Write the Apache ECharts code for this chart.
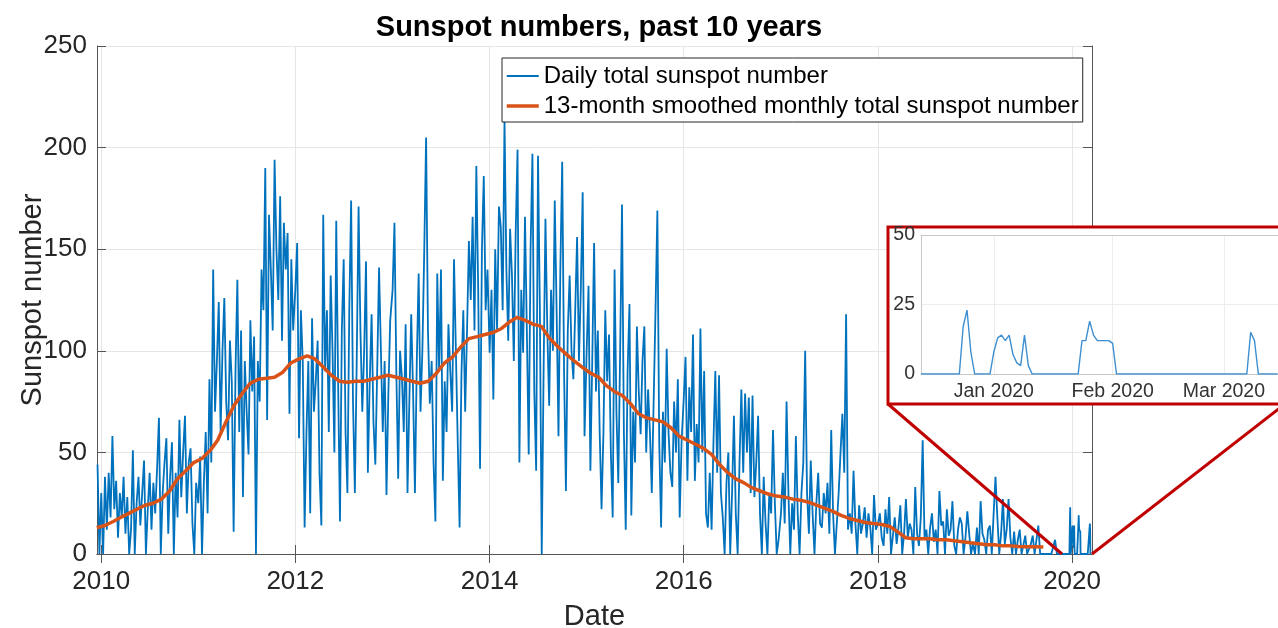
<!DOCTYPE html>
<html>
<head>
<meta charset="utf-8">
<title>Sunspot numbers, past 10 years</title>
<script src="https://cdn.jsdelivr.net/npm/echarts@6/dist/echarts.min.js"></script>
<style>
    html, body {
        margin: 0;
        padding: 0;
        background: #fff;
    }

    #chart {
        width: 1278px;
        height: 628px;
    }
</style>
</head>
<body>
<div id="chart"></div>
<script>
    const weekly2009 = [44, 0]; // from 18 Dec 2009
    const weekly2010 = [30, 0, 38, 12, 40, 18, 58, 22, 36, 8, 30, 18, 38, 10, 28, 0, 12, 51, 0, 25, 38, 14, 30, 46, 0, 22, 40, 12, 35, 20, 42, 67, 0, 30, 45, 57, 10, 38, 55, 0, 40, 18, 66, 28, 50, 68, 20, 45, 52, 15, 0, 35];
    const weekly2011 = [25, 48, 0, 35, 60, 20, 86, 45, 140, 70, 95, 124, 60, 100, 126, 75, 56, 105, 85, 11, 90, 135, 60, 110, 28, 95, 70, 49, 115, 80, 107, 0, 95, 75, 140, 120, 190, 66, 167, 140, 110, 194, 150, 125, 176, 105, 163, 140, 158, 69, 145, 110];
    const weekly2012 = [130, 153, 57, 120, 95, 13, 60, 95, 20, 116, 70, 85, 105, 40, 14, 167, 90, 120, 60, 137, 100, 50, 164, 85, 16, 110, 145, 60, 30, 120, 174, 75, 30, 95, 171, 110, 70, 100, 144, 40, 85, 118, 65, 44, 90, 141, 100, 60, 95, 29, 79, 115];
    const weekly2013 = [130, 163, 90, 37, 100, 87, 60, 113, 30, 75, 118, 80, 30, 95, 138, 70, 100, 149, 205, 110, 74, 95, 45, 16, 138, 90, 140, 36, 85, 60, 113, 90, 70, 145, 100, 55, 13, 89, 120, 70, 110, 154, 125, 166, 110, 191, 130, 42, 150, 186, 120, 140];
    const weekly2014 = [99, 130, 76, 150, 110, 171, 161, 120, 214, 140, 105, 160, 137, 95, 158, 199, 45, 130, 99, 166, 110, 49, 150, 197, 80, 41, 196, 120, 0, 90, 165, 110, 73, 130, 100, 174, 120, 58, 140, 193, 90, 31, 110, 137, 100, 86, 120, 156, 95, 130, 178, 58];
    const weekly2015 = [100, 132, 41, 95, 153, 80, 110, 60, 22, 59, 120, 85, 108, 50, 18, 140, 70, 35, 100, 172, 60, 12, 90, 123, 19, 70, 45, 112, 80, 59, 95, 112, 50, 81, 60, 30, 75, 120, 169, 55, 13, 70, 45, 101, 60, 40, 33, 75, 50, 86, 18, 55];
    const weekly2016 = [76, 97, 36, 82, 60, 108, 36, 64, 45, 111, 50, 90, 20, 13, 40, 12, 55, 90, 40, 88, 30, 18, 0, 35, 50, 0, 30, 68, 20, 0, 45, 81, 40, 79, 50, 77, 30, 78, 28, 45, 68, 20, 0, 38, 15, 0, 30, 20, 61, 25, 0, 7];
    const weekly2017 = [20, 40, 15, 75, 30, 0, 25, 12, 58, 20, 0, 30, 45, 100, 30, 10, 46, 20, 0, 25, 40, 15, 13, 30, 20, 35, 10, 61, 20, 0, 15, 30, 50, 69, 40, 118, 12, 20, 10, 41, 15, 0, 24, 10, 15, 23, 8, 20, 13, 0, 29, 12];
    const weekly2018 = [15, 20, 8, 4, 22, 10, 28, 0, 9, 18, 5, 13, 24, 0, 10, 27, 8, 15, 12, 0, 33, 10, 4, 18, 56, 8, 12, 0, 13, 20, 6, 12, 0, 31, 14, 16, 0, 22, 9, 12, 26, 4, 0, 12, 18, 15, 0, 8, 21, 10, 0, 5];
    const weekly2019 = [0, 13, 0, 26, 10, 7, 0, 12, 14, 0, 20, 38, 18, 0, 10, 27, 5, 12, 27, 8, 0, 11, 0, 7, 12, 0, 0, 9, 0, 0, 5, 9, 0, 0, 14, 0, 0, 0, 0, 0, 0, 0, 0, 7, 0, 0, 0, 0, 0, 0];

    // every day from 13 Dec 2019 to 15 Mar 2020 (the zoomed part)
    const dailyEnd = [
        0, 0, 0, 0, 0, 0, 0, 0, 0, 0, 0, 17, 23, 8, 0, 0, 0, 0, 0,
        8, 13, 14, 12, 14, 7, 4, 3, 14, 3, 0, 0, 0, 0, 0, 0, 0, 0, 0, 0, 0, 0, 0, 12, 12, 19, 14, 12, 12, 12, 12,
        11, 0, 0, 0, 0, 0, 0, 0, 0, 0, 0, 0, 0, 0, 0, 0, 0, 0, 0, 0, 0, 0, 0, 0, 0, 0, 0, 0, 0,
        0, 0, 0, 0, 0, 0, 0, 15, 12, 0, 0, 0, 0, 0, 0
    ];

    // 13-month smoothed monthly value, Dec 2009 .. Sep 2019
    const smoothed = [
        13,
        14, 16, 18, 20, 22, 24, 25, 27, 31, 37, 41, 45,
        47, 51, 56, 65, 73, 79, 84, 86, 86.5, 87, 89.5, 94,
        96, 97.5, 96, 92, 88, 85, 84.5, 85, 85, 86, 87, 88,
        87, 86, 85, 84, 85, 89, 94, 97, 102, 106, 107, 108,
        109, 111, 114, 116.5, 115, 113, 112, 106, 102, 98.5, 95, 92,
        89, 87, 83, 80, 78, 74, 69, 67, 66, 65, 62, 58,
        56, 54, 52, 49, 44, 40, 37, 35, 32.5, 31, 29.5, 28.5,
        28, 27, 26.5, 25.5, 24, 22.5, 21, 19, 17.5, 16.5, 15.5, 15,
        14.5, 13.5, 11, 8, 7.5, 7.5, 7.5, 7, 7, 6.5, 6, 5.5,
        5, 4.5, 4.5, 4, 4, 3.7, 3.6, 3.6, 3.5
    ];

    const xTickYears = [2010, 2012, 2014, 2016, 2018, 2020];
    const insetMonths = [[2020, 0], [2020, 1], [2020, 2]];
    const insetLabels = ['Jan 2020', 'Feb 2020', 'Mar 2020'];

    const fontFamily = '"Liberation Sans", Arial, Helvetica, sans-serif';
    const axisColor = '#555';
    const textColor = '#262626';
    const gridColor = '#e6e6e6';
    const red = '#C00000';

    function weekly(year, month, day, values) {
        return values.map((v, i) => [Date.UTC(year, month, day + 7 * i), v]);
    }

    let dailyPoints = [].concat(
        weekly(2009, 11, 18, weekly2009),
        weekly(2010, 0, 1, weekly2010),
        weekly(2011, 0, 1, weekly2011),
        weekly(2012, 0, 1, weekly2012),
        weekly(2013, 0, 1, weekly2013),
        weekly(2014, 0, 1, weekly2014),
        weekly(2015, 0, 1, weekly2015),
        weekly(2016, 0, 1, weekly2016),
        weekly(2017, 0, 1, weekly2017),
        weekly(2018, 0, 1, weekly2018),
        weekly(2019, 0, 1, weekly2019)
    );
    let zoomPoints = dailyEnd.map((v, i) => [Date.UTC(2019, 11, 13 + i), v]);
    dailyPoints = dailyPoints.concat(zoomPoints);
    let smoothPoints = smoothed.map((v, i) => [Date.UTC(2009, 11 + i, 15), v]);

    let xTicks = xTickYears.map(y => Date.UTC(y, 0, 1));
    let insetTicks = insetMonths.map(m => Date.UTC(m[0], m[1], 1));

    let xMin = Date.UTC(2009, 11, 16);
    let xMax = Date.UTC(2020, 2, 16);
    let insetMin = Date.UTC(2019, 11, 13);
    let insetMax = Date.UTC(2020, 2, 18);

    let chart = echarts.init(document.getElementById('chart'));

    let option = {
        animation: false,
        backgroundColor: '#fff',
        textStyle: {fontFamily: fontFamily},
        title: {
            text: 'Sunspot numbers, past 10 years',
            left: 594,
            top: 8,
            textAlign: 'center',
            textStyle: {fontSize: 29, fontWeight: 'bold', color: '#000', fontFamily: fontFamily}
        },
        legend: {
            data: [
                {name: 'Daily total sunspot number', lineStyle: {width: 2}},
                {name: '13-month smoothed monthly total sunspot number', lineStyle: {width: 3.5}}
            ],
            orient: 'vertical',
            left: 502,
            top: 58,
            itemWidth: 32,
            itemHeight: 14,
            itemGap: 0,
            padding: [3, 4, 1, 3],
            borderColor: '#262626',
            borderWidth: 1,
            backgroundColor: '#fff',
            itemStyle: {opacity: 0},
            textStyle: {fontSize: 24, color: '#000', lineHeight: 30, fontFamily: fontFamily}
        },
        grid: [
            {left: 97, top: 46, width: 995, height: 508, outerBoundsMode: 'none', containLabel: false},
            // inset
            {left: 921, top: 235, width: 368, height: 139, outerBoundsMode: 'none', containLabel: false}
        ],
        xAxis: [
            {
                type: 'value', gridIndex: 0, min: xMin, max: xMax,
                name: 'Date', nameLocation: 'middle', nameGap: 48, nameMoveOverlap: false,
                nameTextStyle: {fontSize: 29, color: textColor, fontFamily: fontFamily},
                axisLine: {lineStyle: {color: axisColor}},
                axisTick: {inside: true, length: 9, customValues: xTicks, lineStyle: {color: axisColor}},
                axisLabel: {
                    customValues: xTicks, fontSize: 26, color: textColor, margin: 15, fontFamily: fontFamily,
                    formatter: v => String(new Date(v).getUTCFullYear())
                },
                splitLine: {show: true, lineStyle: {color: gridColor}}
            },
            {
                type: 'value', gridIndex: 0, position: 'top', min: xMin, max: xMax,
                axisLine: {lineStyle: {color: axisColor}},
                axisTick: {inside: true, length: 9, customValues: xTicks, lineStyle: {color: axisColor}},
                axisLabel: {show: false},
                splitLine: {show: false}
            },
            {
                type: 'value', gridIndex: 1, zlevel: 1, z: 5, min: insetMin, max: insetMax,
                axisLine: {lineStyle: {color: '#c8c8c8'}},
                axisTick: {show: false, customValues: insetTicks},
                axisLabel: {
                    customValues: insetTicks, fontSize: 19.5, color: '#333', margin: 8, fontFamily: fontFamily,
                    formatter: v => insetLabels[insetTicks.indexOf(v)]
                },
                splitLine: {show: true, lineStyle: {color: '#ececec'}}
            },
            {
                type: 'value', gridIndex: 1, position: 'top', zlevel: 1, z: 5, min: insetMin, max: insetMax,
                axisLine: {lineStyle: {color: '#c8c8c8'}},
                axisTick: {show: false},
                axisLabel: {show: false},
                splitLine: {show: false}
            }
        ],
        yAxis: [
            {
                type: 'value', gridIndex: 0, min: 0, max: 250, interval: 50,
                name: 'Sunspot number', nameLocation: 'middle', nameGap: 50, nameMoveOverlap: false,
                nameTextStyle: {fontSize: 29, color: textColor, fontFamily: fontFamily},
                axisLine: {show: true, lineStyle: {color: axisColor}},
                axisTick: {show: true, inside: true, length: 9, lineStyle: {color: axisColor}},
                axisLabel: {fontSize: 26, color: textColor, margin: 10, fontFamily: fontFamily},
                splitLine: {show: true, lineStyle: {color: gridColor}}
            },
            {
                type: 'value', gridIndex: 0, position: 'right', min: 0, max: 250, interval: 50,
                axisLine: {show: true, lineStyle: {color: axisColor}},
                axisTick: {show: true, inside: true, length: 9, lineStyle: {color: axisColor}},
                axisLabel: {show: false},
                splitLine: {show: false}
            },
            {
                type: 'value', gridIndex: 1, min: 0, max: 50, interval: 25, zlevel: 1, z: 5,
                axisLine: {show: true, lineStyle: {color: '#c8c8c8'}},
                axisTick: {show: false},
                axisLabel: {fontSize: 19.5, color: '#333', margin: 6, fontFamily: fontFamily},
                splitLine: {show: true, lineStyle: {color: '#ececec'}}
            }
        ],
        series: [
            {
                name: 'Daily total sunspot number',
                type: 'line',
                xAxisIndex: 0,
                yAxisIndex: 0,
                symbol: 'none',
                color: '#0072BD',
                lineStyle: {width: 1.8, color: '#0072BD'},
                data: dailyPoints
            },
            {
                name: '13-month smoothed monthly total sunspot number',
                type: 'line',
                xAxisIndex: 0,
                yAxisIndex: 0,
                symbol: 'none',
                color: '#D95319',
                lineStyle: {width: 3.5, color: '#D95319'},
                z: 3,
                data: smoothPoints
            },
            {
                name: 'zoom',
                type: 'line',
                xAxisIndex: 2,
                yAxisIndex: 2,
                symbol: 'none',
                zlevel: 1,
                z: 6,
                lineStyle: {width: 1.4, color: '#3d8fd1'},
                data: zoomPoints
            }
        ]
    };
    chart.setOption(option);

    // red callout box and the two lines down to the main axes
    let box = {x: 888, y: 227, width: 397, height: 177};
    let a = chart.convertToPixel({gridIndex: 0}, [Date.UTC(2019, 10, 24), 0]);
    let b = chart.convertToPixel({gridIndex: 0}, [xMax, 0]);
    chart.setOption({
        graphic: [
            {
                type: 'line', zlevel: 1, z: 0,
                shape: {x1: box.x, y1: box.y + box.height, x2: a[0], y2: a[1]},
                style: {stroke: red, lineWidth: 3}
            },
            {
                type: 'line', zlevel: 1, z: 0,
                shape: {x1: box.x + box.width, y1: box.y + box.height, x2: b[0], y2: b[1]},
                style: {stroke: red, lineWidth: 3}
            },
            {
                type: 'rect', zlevel: 1, z: 1,
                shape: box,
                style: {fill: '#fff', stroke: red, lineWidth: 3}
            }
        ]
    });
</script>
</body>
</html>
